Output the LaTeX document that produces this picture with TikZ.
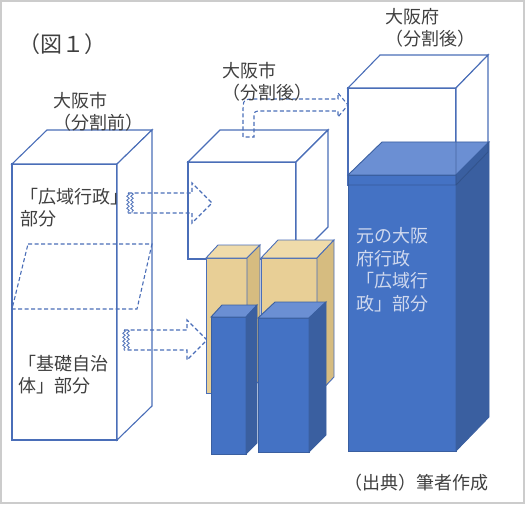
\documentclass[tikz,border=0pt]{standalone}
\usepackage{fontspec}
\newfontfamily\jp{Noto Sans CJK JP}
\usepackage{tikz}
\usetikzlibrary{decorations.pathmorphing}
\definecolor{lnc}{HTML}{4A6EB8}
\definecolor{txt}{HTML}{404040}
\definecolor{bfr}{HTML}{4472C4}
\definecolor{btp}{HTML}{6B8FD3}
\definecolor{bsd}{HTML}{3A5FA0}
\definecolor{tfr}{HTML}{E8CF96}
\definecolor{ttp}{HTML}{EFDBAA}
\definecolor{tsd}{HTML}{D6BC80}
\definecolor{btx}{HTML}{CFD8EE}

\begin{document}
\begin{tikzpicture}[x=1pt,y=-1pt,
    wbox/.style={draw=lnc,line width=1.1,fill=white},
    dsh/.style={draw=lnc,line width=1.1,dash pattern=on 4pt off 2.5pt},
    wave/.style={draw=lnc,line width=0.8,decorate,decoration={snake,amplitude=1.2pt,segment length=4pt}},
    tanf/.style={draw=lnc,line width=0.9,fill=tfr},
    tant/.style={draw=lnc,line width=0.9,fill=ttp},
    tans/.style={draw=lnc,line width=0.9,fill=tsd},
    bluef/.style={draw=bsd,line width=0.9,fill=bfr},
    bluet/.style={draw=bsd,line width=0.9,fill=btp},
    blues/.style={draw=bsd,line width=0.9,fill=bsd},
    ghost/.style={draw=bsd!80!black,line width=0.9,opacity=0.6},
    lbl/.style={font=\jp\fontsize{18}{22}\selectfont,text=txt,inner sep=0pt,align=left,anchor=north west}]
\useasboundingbox (0,0) rectangle (527,505);
\draw[gray!40,line width=1.5] (1,1) rectangle (524,503);

\draw[wbox] (12,164) rectangle (117,440);
\draw[wbox] (12,164) -- (47,130) -- (152,130) -- (117,164) -- cycle;
\draw[wbox] (117,164) -- (152,130) -- (152,406) -- (117,440) -- cycle;
\draw[dsh] (28,244) -- (152,244) -- (137,309) -- (12,309) -- cycle;

\draw[wbox] (188,162) rectangle (296,259);
\draw[wbox] (188,162) -- (220,130) -- (328,130) -- (296,162) -- cycle;
\draw[wbox] (296,162) -- (328,130) -- (328,227) -- (296,259) -- cycle;

\draw[dsh] (128,193) -- (192,193) -- (192,183) -- (212,203) -- (192,223) -- (192,213) -- (128,213);
\draw[wave] (128,193) -- (128,213);
\draw[wave] (132,193) -- (132,213);
\draw[dsh] (124,330) -- (187,330) -- (187,320) -- (207,340) -- (187,360) -- (187,350) -- (124,350);
\draw[wave] (124,330) -- (124,350);
\draw[wave] (128,330) -- (128,350);
\draw[dsh] (243,137) -- (243,113) .. controls (243,99) .. (257,99) -- (338,99) -- (338,93) -- (348,105)
    -- (338,117) -- (338,111) -- (262,111) .. controls (254,111) .. (254,119) -- (254,137) -- cycle;

\draw[tanf] (206,258) rectangle (247,393);
\draw[tant] (206,258) -- (218,245) -- (260,245) -- (247,258) -- cycle;
\draw[tans] (247,258) -- (260,245) -- (260,380) -- (247,393) -- cycle;
\draw[tanf] (261,258) rectangle (317,395);
\draw[tant] (261,258) -- (278,240) -- (334,240) -- (317,258) -- cycle;
\draw[tans] (317,258) -- (334,240) -- (334,377) -- (317,395) -- cycle;

\draw[bluef] (211,317) rectangle (246,454);
\draw[bluet] (211,317) -- (222,305) -- (257,305) -- (246,317) -- cycle;
\draw[blues] (246,317) -- (257,305) -- (257,443) -- (246,454) -- cycle;
\draw[bluef] (258,318) rectangle (309,452);
\draw[bluet] (258,318) -- (275,302) -- (326,302) -- (309,318) -- cycle;
\draw[blues] (309,318) -- (326,302) -- (326,435) -- (309,452) -- cycle;

\draw[wbox] (348,88) rectangle (456,185);
\draw[wbox] (348,88) -- (380,55) -- (488,55) -- (456,88) -- cycle;
\draw[wbox] (456,88) -- (488,55) -- (488,152) -- (456,185) -- cycle;
\draw[bluef] (348,175) rectangle (456,451);
\draw[bluet] (348,175) -- (382,142) -- (489,142) -- (456,175) -- cycle;
\draw[blues] (456,175) -- (489,142) -- (489,417) -- (456,451) -- cycle;
\draw[ghost] (456,142) -- (456,185) (348,185) -- (456,185) -- (488,152) -- (488,142);

\node[lbl,font=\jp\fontsize{22}{26}\selectfont] (title) at (18,33) {（図１）};
\node[lbl] (before) at (53,92) {大阪市\\（分割前）};
\node[lbl] (cityafter) at (222,62) {大阪市\\（分割後）};
\node[lbl] (prefafter) at (385,8) {大阪府\\（分割後）};
\node[lbl] (wide) at (20,188) {「広域行政」\\部分};
\node[lbl] (basic) at (18,355) {「基礎自治\\体」部分};
\node[lbl,text=btx,font=\jp\fontsize{18}{22.7}\selectfont] (orig) at (356,227) {元の大阪\\府行政\\「広域行\\政」部分};
\node[lbl] (source) at (344,474) {（出典）筆者作成};
\end{tikzpicture}
\end{document}
